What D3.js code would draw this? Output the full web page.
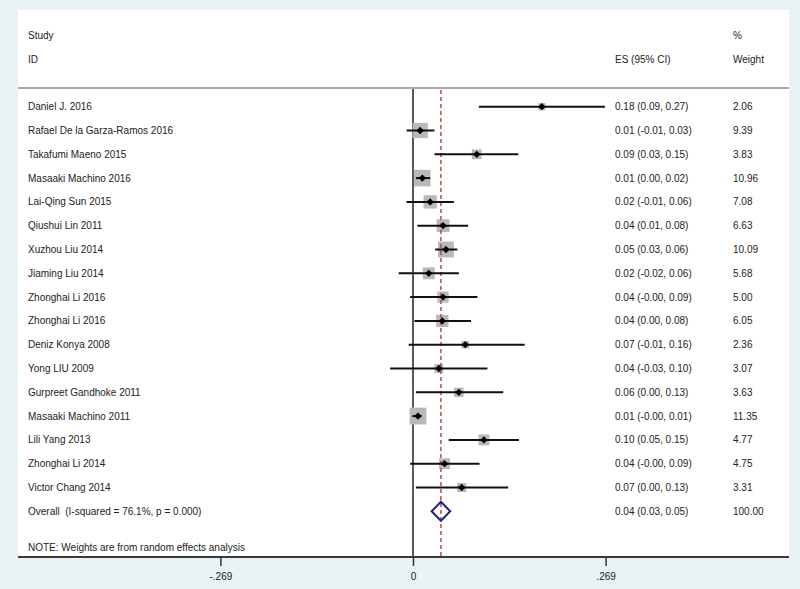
<!DOCTYPE html>
<html><head><meta charset="utf-8">
<script src="https://cdn.jsdelivr.net/npm/d3@7"></script>
<style>
html,body{margin:0;padding:0;background:#e8f1f4;}
svg{display:block;}
text{font-family:"Liberation Sans",Arial,sans-serif;font-size:10px;fill:#222;white-space:pre;}
</style></head>
<body>
<svg id="chart" width="800" height="589"></svg>
<script>
const studies = ["Daniel J. 2016","Rafael De la Garza-Ramos 2016","Takafumi Maeno 2015","Masaaki Machino 2016","Lai-Qing Sun 2015","Qiushui Lin 2011","Xuzhou Liu 2014","Jiaming Liu 2014","Zhonghai Li 2016","Zhonghai Li 2016","Deniz Konya 2008","Yong LIU 2009","Gurpreet Gandhoke 2011","Masaaki Machino 2011","Lili Yang 2013","Zhonghai Li 2014","Victor Chang 2014"];
const es = [0.180,0.010,0.089,0.013,0.024,0.042,0.046,0.022,0.042,0.041,0.073,0.036,0.064,0.007,0.099,0.044,0.068];
const lo = [0.092,-0.009,0.030,0.004,-0.009,0.006,0.031,-0.020,-0.004,0.002,-0.006,-0.032,0.004,-0.001,0.050,-0.004,0.004];
const hi = [0.268,0.030,0.147,0.024,0.057,0.077,0.062,0.064,0.090,0.081,0.156,0.104,0.126,0.012,0.148,0.093,0.133];
const weights = [2.06,9.39,3.83,10.96,7.08,6.63,10.09,5.68,5.00,6.05,2.36,3.07,3.63,11.35,4.77,4.75,3.31];
const overallLabel = "Overall  (I-squared = 76.1%, p = 0.000)";
const overall = {es:0.039, lo:0.026, hi:0.052, weight:100.00};
const tickValues = [-0.269, 0, 0.269];
const tickLabels = ["-.269", "0", ".269"];
const note = "NOTE: Weights are from random effects analysis";

const svg = d3.select("#chart");
const panel = {x0:18, x1:789, y0:10, y1:557};
const x = d3.scaleLinear().domain([-0.269, 0.269]).range([220.4, 605.6]);
const y = d3.scaleLinear().domain([0, studies.length]).range([106.7, 511.3]);
const boxSide = d3.scaleSqrt().domain([0, 11.35]).range([0, 16.8]);
const fmt = v => v.toFixed(2);
const colES = 615, colW = 733, colStudy = 28;

svg.append("rect").attr("x",panel.x0).attr("y",panel.y0).attr("width",panel.x1-panel.x0).attr("height",panel.y1-panel.y0).attr("fill","#fff");

// headers
svg.append("text").attr("x",colStudy).attr("y",35).attr("dy","0.35em").text("Study");
svg.append("text").attr("x",colStudy).attr("y",59).attr("dy","0.35em").text("ID");
svg.append("text").attr("x",colES).attr("y",59).attr("dy","0.35em").text("ES (95% CI)");
svg.append("text").attr("x",colW).attr("y",35).attr("dy","0.35em").text("%");
svg.append("text").attr("x",colW).attr("y",59).attr("dy","0.35em").text("Weight");

// header separator
svg.append("line").attr("x1",panel.x0).attr("x2",panel.x1).attr("y1",88).attr("y2",88).attr("stroke","#a9a9a9").attr("stroke-width",2);

// zero line
svg.append("line").attr("x1",x(0)).attr("x2",x(0)).attr("y1",89).attr("y2",panel.y1).attr("stroke","#222").attr("stroke-width",1.5);

const rows = studies.map((s,i)=>({s, es:es[i], lo:lo[i], hi:hi[i], w:weights[i], i}));

// boxes
svg.append("g").selectAll("rect").data(rows).join("rect")
  .attr("x",d=>x(d.es)-boxSide(d.w)/2).attr("y",d=>y(d.i)-boxSide(d.w)/2)
  .attr("width",d=>boxSide(d.w)).attr("height",d=>boxSide(d.w))
  .attr("fill","#b9b9b9");

// red dashed overall line
svg.append("line").attr("x1",x(overall.es)).attr("x2",x(overall.es)).attr("y1",90).attr("y2",panel.y1)
  .attr("stroke","#c04848").attr("stroke-width",1.5).attr("stroke-dasharray","4,3");

// CI lines
svg.append("g").selectAll("line").data(rows).join("line")
  .attr("x1",d=>x(d.lo)).attr("x2",d=>x(d.hi)).attr("y1",d=>y(d.i)).attr("y2",d=>y(d.i))
  .attr("stroke","#111").attr("stroke-width",2);

// point markers
svg.append("g").selectAll("path").data(rows).join("path")
  .attr("transform",d=>`translate(${x(d.es)},${y(d.i)})`)
  .attr("d",d3.symbol(d3.symbolDiamond2,34))
  .attr("fill","#000");

// overall diamond
const yo = y(studies.length), h = 9.5;
svg.append("path").attr("d",d3.line()([[x(overall.lo),yo],[x(overall.es),yo-h],[x(overall.hi),yo],[x(overall.es),yo+h]])+"Z")
  .attr("fill","none").attr("stroke","#1f2678").attr("stroke-width",2);

// labels
const lab = svg.append("g");
lab.selectAll("text.study").data(rows).join("text").attr("class","study")
  .attr("x",colStudy).attr("y",d=>y(d.i)).attr("dy","0.35em").text(d=>d.s);
lab.selectAll("text.es").data(rows).join("text").attr("class","es")
  .attr("x",colES).attr("y",d=>y(d.i)).attr("dy","0.35em").text(d=>`${fmt(d.es)} (${fmt(d.lo)}, ${fmt(d.hi)})`);
lab.selectAll("text.w").data(rows).join("text").attr("class","w")
  .attr("x",colW).attr("y",d=>y(d.i)).attr("dy","0.35em").text(d=>fmt(d.w));
svg.append("text").attr("x",colStudy).attr("y",yo).attr("dy","0.35em").text(overallLabel);
svg.append("text").attr("x",colES).attr("y",yo).attr("dy","0.35em").text(`${fmt(overall.es)} (${fmt(overall.lo)}, ${fmt(overall.hi)})`);
svg.append("text").attr("x",colW).attr("y",yo).attr("dy","0.35em").text(fmt(overall.weight));
svg.append("text").attr("x",colStudy).attr("y",547).attr("dy","0.35em").text(note);

// axis
const axis = d3.axisBottom(x).tickValues(tickValues).tickFormat((d,i)=>tickLabels[i]).tickSize(9).tickPadding(7);
const ag = svg.append("g").attr("transform",`translate(0,${panel.y1})`).call(axis);
ag.select(".domain").remove();
ag.selectAll(".tick line").attr("stroke","#333").attr("stroke-width",1.5);
ag.selectAll(".tick text").attr("font-family","Liberation Sans, Arial, sans-serif").attr("font-size",10).attr("fill","#222");
svg.append("line").attr("x1",panel.x0).attr("x2",panel.x1).attr("y1",panel.y1).attr("y2",panel.y1).attr("stroke","#3a3a3a").attr("stroke-width",2);
</script>
</body></html>
